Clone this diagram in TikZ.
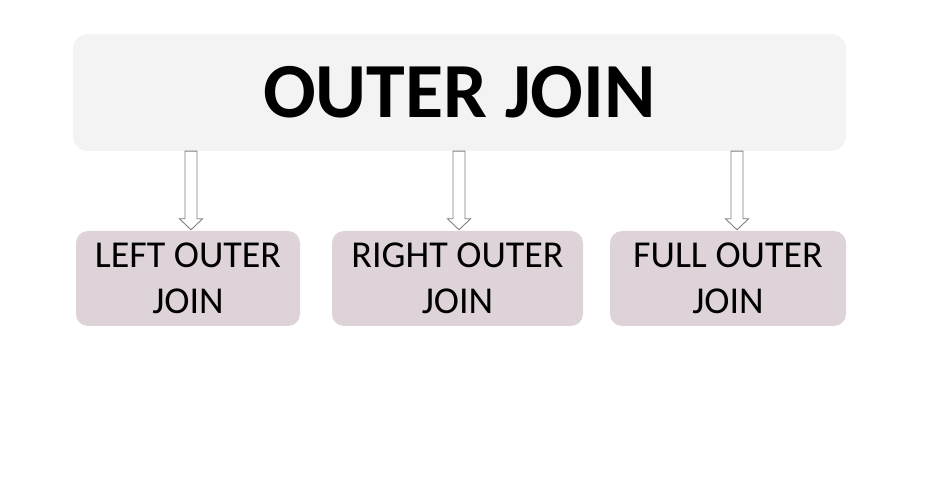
\documentclass[tikz,border=0pt]{standalone}
\usepackage{fontspec}
\setmainfont{Carlito}
\usetikzlibrary{calc}
\definecolor{topfill}{HTML}{F3F3F3}
\definecolor{subfill}{HTML}{DDD3D9}
\definecolor{arrline}{HTML}{7F7F7F}
\begin{document}
\begin{tikzpicture}[x=1pt,y=-1pt,
  topbox/.style={fill=topfill,draw=none,rounded corners=15pt,minimum width=773pt,minimum height=117pt,inner sep=0pt,
    font=\fontsize{78}{82}\selectfont\bfseries},
  subbox/.style={fill=subfill,draw=none,rounded corners=12pt,minimum height=95pt,inner sep=0pt,align=center,
    font=\fontsize{38}{46}\selectfont},
  blkarrow/.style={draw=arrline,fill=white,line width=0.9pt,line join=miter}]
\useasboundingbox (0,0) rectangle (929,478);
\node[topbox] (top) at (459.5,92.5) {OUTER JOIN};
\node[subbox,minimum width=224pt] (L) at (188,278.5) {LEFT OUTER\\JOIN};
\node[subbox,minimum width=251pt] (M) at (457.5,278.5) {RIGHT OUTER\\JOIN};
\node[subbox,minimum width=236pt] (R) at (728,278.5) {FULL OUTER\\JOIN};
\foreach \t/\cx in {L/191,M/459,R/737}{
  \coordinate (s\t) at (top.south -| \cx,0);
  \coordinate (e\t) at (\t.north -| \cx,0);
  \draw[blkarrow] ($(s\t)+(-6,0)$) -- ($(e\t)+(-6,-12)$) -- ($(e\t)+(-11.5,-12)$) -- ($(e\t)+(0,-1)$)
    -- ($(e\t)+(11.5,-12)$) -- ($(e\t)+(6,-12)$) -- ($(s\t)+(6,0)$) -- cycle;
}
\end{tikzpicture}
\end{document}
